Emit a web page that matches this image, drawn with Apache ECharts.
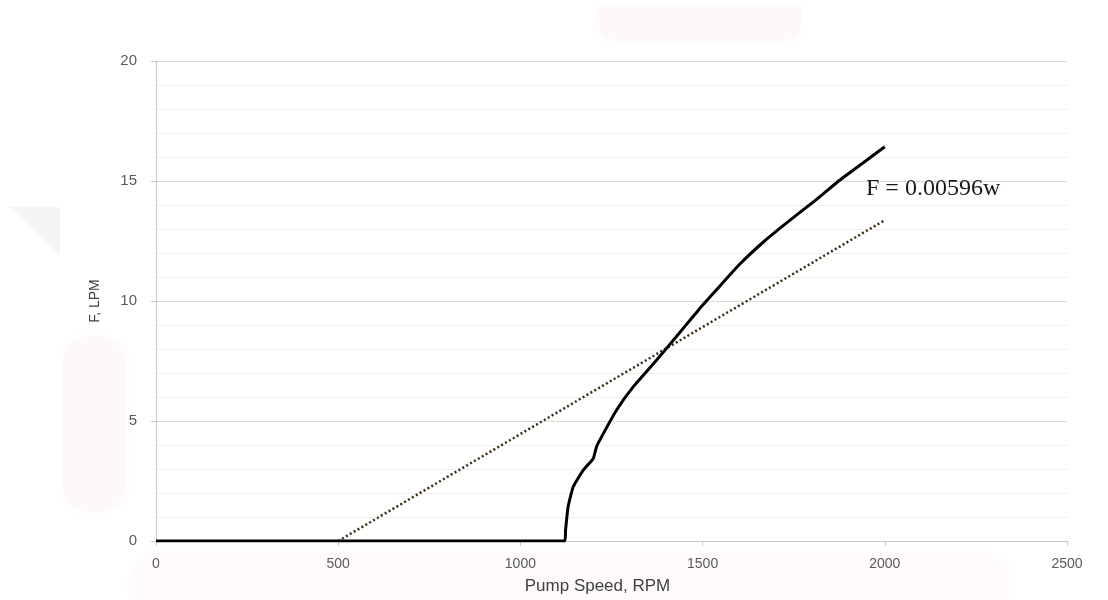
<!DOCTYPE html>
<html>
<head>
<meta charset="utf-8">
<style>
  html, body { margin: 0; padding: 0; background: #ffffff; }
  #chart { width: 1108px; height: 600px; }
</style>
<script src="https://cdn.jsdelivr.net/npm/echarts@6/dist/echarts.min.js"></script>
</head>
<body>
<div id="chart"></div>
<script>
// Measured pump flow versus pump speed
const speedRpm = [0, 1122, 1124, 1131, 1145, 1173, 1200, 1209, 1223, 1264, 1310, 1374, 1438, 1490, 1540, 1603, 1670, 1740, 1810, 1877, 1940, 2000];
const flowLpm  = [0, 0, 0.46, 1.43, 2.26, 2.96, 3.44, 3.93, 4.35, 5.46, 6.43, 7.54, 8.7, 9.65, 10.5, 11.55, 12.5, 13.37, 14.2, 15.04, 15.75, 16.43];

// Linear fit line
const fitSpeed = [500, 2000];
const fitFlow  = [0, 13.37];
const fitLabel = 'F = 0.00596w';

const xTicks = [0, 500, 1000, 1500, 2000, 2500];
const yTicks = [0, 5, 10, 15, 20];

const toPairs = (xs, ys) => xs.map((x, i) => [x, ys[i]]);

const chart = echarts.init(document.getElementById('chart'), null, { renderer: 'canvas' });

const soft = (fill) => ({ fill, shadowColor: fill, shadowBlur: 14 });

chart.setOption({
  animation: false,
  backgroundColor: '#ffffff',
  grid: { left: 156, right: 41, top: 61, bottom: 59, containLabel: false },
  graphic: [
    // faint background marks
    { type: 'polygon', z: -10, shape: { points: [[10, 207], [60, 207], [60, 256]] }, style: { fill: '#f5f5f5' } },
    { type: 'rect', z: -10, shape: { x: 62, y: 335, width: 64, height: 178, r: 30 }, style: soft('#fef9f9') },
    { type: 'rect', z: -10, shape: { x: 598, y: 7, width: 204, height: 34, r: [4, 4, 20, 20] }, style: soft('#fef9f8') },
    { type: 'rect', z: -10, shape: { x: 130, y: 552, width: 880, height: 60, r: 40 }, style: soft('#fffbfb') },
    {
      type: 'text', left: 866, top: 177, z: 100,
      style: { text: fitLabel, font: '24px "Liberation Serif", "DejaVu Serif", serif', fill: '#1a1a1a' }
    }
  ],
  xAxis: {
    type: 'value', min: 0, max: 2500, interval: 500,
    name: 'Pump Speed, RPM', nameLocation: 'middle', nameGap: 37,
    nameTextStyle: { color: '#404040', fontSize: 17, fontFamily: 'Liberation Sans', padding: [0, 28, 0, 0] },
    axisLine: { show: true, lineStyle: { color: '#c8c8c8', width: 1 } },
    axisTick: { show: true, length: 5, lineStyle: { color: '#c8c8c8' } },
    axisLabel: { color: '#595959', fontSize: 14, fontFamily: 'Liberation Sans', margin: 16,
      formatter: v => xTicks.includes(v) ? String(v) : '' },
    splitLine: { show: false }
  },
  yAxis: {
    type: 'value', min: 0, max: 20, interval: 5,
    name: 'F, LPM', nameLocation: 'middle', nameGap: 54, nameRotate: 90,
    nameTextStyle: { color: '#404040', fontSize: 14, fontFamily: 'Liberation Sans' },
    axisLine: { show: true, lineStyle: { color: '#c8c8c8', width: 1 } },
    axisTick: { show: true, length: 5, lineStyle: { color: '#c8c8c8' } },
    axisLabel: { color: '#595959', fontSize: 15, fontFamily: 'Liberation Sans', margin: 19,
      formatter: v => yTicks.includes(v) ? String(v) : '' },
    splitLine: { show: true, lineStyle: { color: '#d9d9d9', width: 1 } },
    minorTick: { show: false, splitNumber: 5 },
    minorSplitLine: { show: true, lineStyle: { color: '#eeeeee', width: 1 } }
  },
  series: [
    {
      type: 'line', name: 'fit', data: toPairs(fitSpeed, fitFlow),
      showSymbol: false, z: 2,
      lineStyle: { color: '#3a2c12', width: 2.5, type: [2, 2.5] }
    },
    {
      type: 'line', name: 'flow', data: toPairs(speedRpm, flowLpm),
      showSymbol: false, smooth: 0.15, z: 3,
      lineStyle: { color: '#000000', width: 3 }
    }
  ]
});
</script>
</body>
</html>
